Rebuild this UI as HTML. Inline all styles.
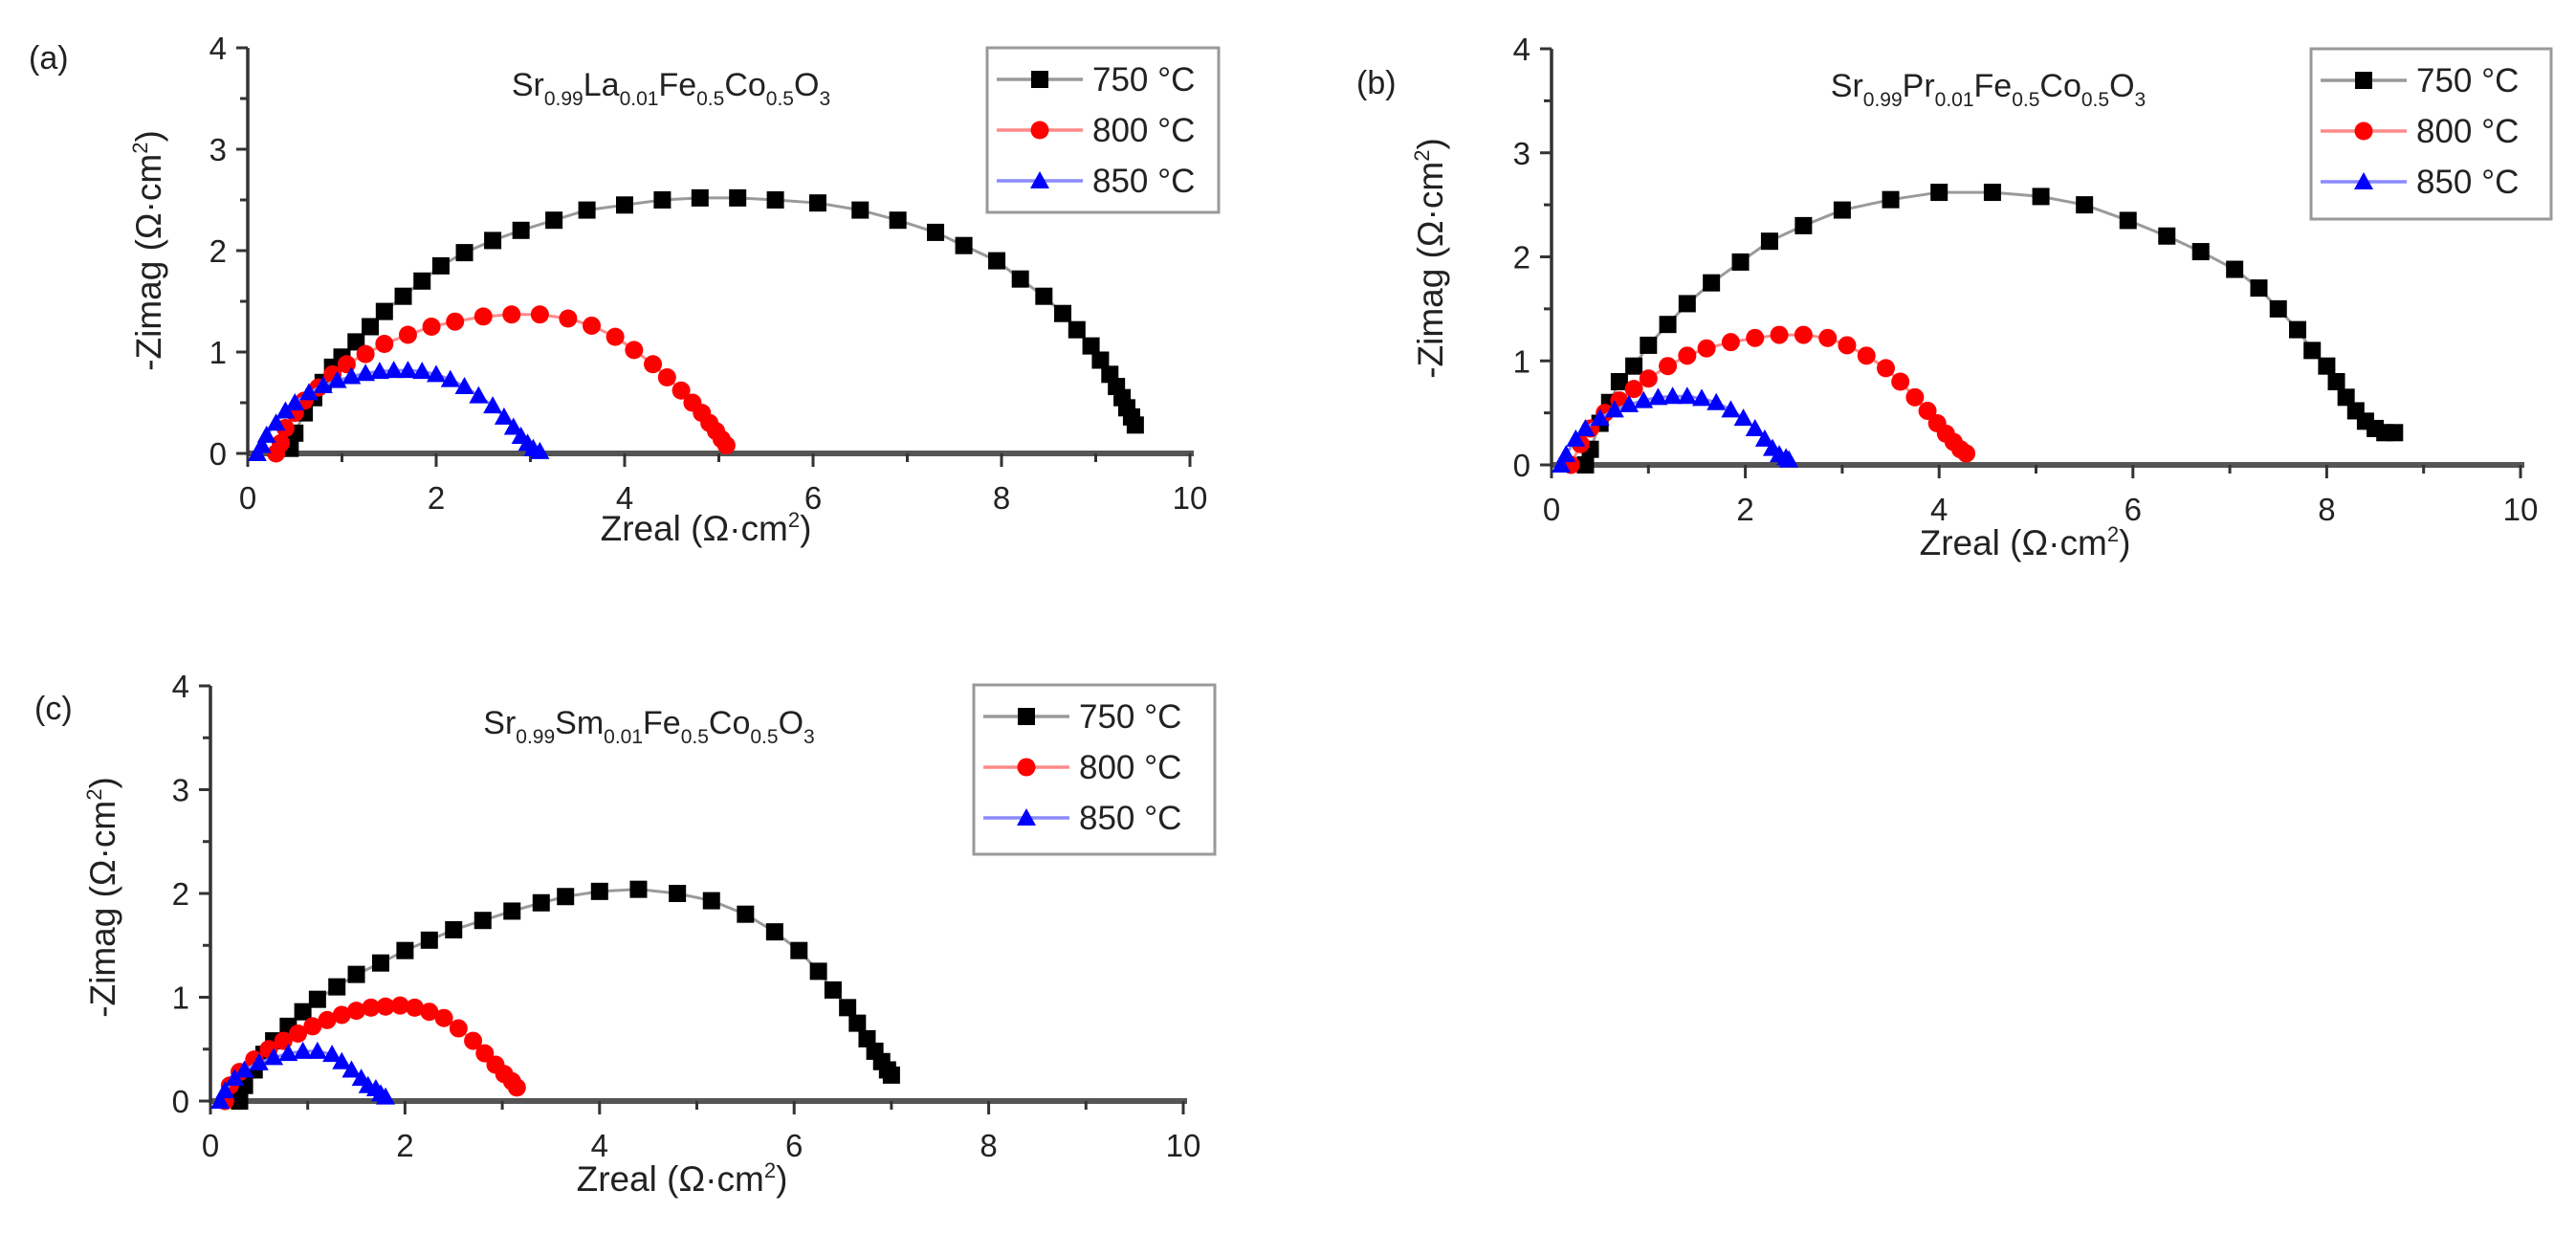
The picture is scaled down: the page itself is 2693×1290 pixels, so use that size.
<!DOCTYPE html>
<html><head><meta charset="utf-8"><style>
html,body{margin:0;padding:0;background:#fff;}
svg{display:block;font-family:"Liberation Sans",Arial,sans-serif;}
</style></head><body>
<svg id="chart" width="2693" height="1290" viewBox="0 0 2693 1290" xmlns="http://www.w3.org/2000/svg"></svg>
<script>
const xTicks=[0,2,4,6,8,10];
const yTicks=[0,1,2,3,4];
const seriesLabels=["750 °C","800 °C","850 °C"];
const panelLetters=["(a)","(b)","(c)"];
const dopants=["La","Pr","Sm"];
// Panel a
const a750x=[0.45,0.5,0.6,0.7,0.8,0.9,1.0,1.15,1.3,1.45,1.65,1.85,2.05,2.3,2.6,2.9,3.25,3.6,4.0,4.4,4.8,5.2,5.6,6.05,6.5,6.9,7.3,7.6,7.95,8.2,8.45,8.65,8.8,8.95,9.05,9.15,9.22,9.28,9.33,9.38,9.42];
const a750y=[0.05,0.2,0.4,0.55,0.7,0.85,0.95,1.1,1.25,1.4,1.55,1.7,1.85,1.98,2.1,2.2,2.3,2.4,2.45,2.5,2.52,2.52,2.5,2.47,2.4,2.3,2.18,2.05,1.9,1.72,1.55,1.38,1.22,1.06,0.92,0.78,0.66,0.55,0.45,0.36,0.28];
const a800x=[0.3,0.35,0.4,0.5,0.6,0.75,0.9,1.05,1.25,1.45,1.7,1.95,2.2,2.5,2.8,3.1,3.4,3.65,3.9,4.1,4.3,4.45,4.6,4.72,4.82,4.9,4.97,5.03,5.08];
const a800y=[0,0.1,0.25,0.4,0.52,0.65,0.78,0.88,0.98,1.08,1.17,1.25,1.3,1.35,1.37,1.37,1.33,1.26,1.15,1.02,0.88,0.75,0.62,0.5,0.4,0.3,0.22,0.14,0.08];
const a850x=[0.1,0.15,0.2,0.3,0.4,0.5,0.65,0.8,0.95,1.1,1.25,1.4,1.55,1.7,1.85,2.0,2.15,2.3,2.45,2.6,2.72,2.82,2.9,2.97,3.03,3.1];
const a850y=[0,0.08,0.18,0.3,0.42,0.5,0.6,0.67,0.72,0.76,0.79,0.81,0.82,0.82,0.81,0.78,0.73,0.66,0.57,0.47,0.36,0.26,0.17,0.1,0.05,0.02];
// Panel b
const b750x=[0.35,0.4,0.5,0.6,0.7,0.85,1.0,1.2,1.4,1.65,1.95,2.25,2.6,3.0,3.5,4.0,4.55,5.05,5.5,5.95,6.35,6.7,7.05,7.3,7.5,7.7,7.85,8.0,8.1,8.2,8.3,8.4,8.5,8.6,8.7];
const b750y=[0,0.15,0.4,0.6,0.8,0.95,1.15,1.35,1.55,1.75,1.95,2.15,2.3,2.45,2.55,2.62,2.62,2.58,2.5,2.35,2.2,2.05,1.88,1.7,1.5,1.3,1.1,0.95,0.8,0.65,0.52,0.42,0.35,0.31,0.31];
const b800x=[0.2,0.3,0.4,0.55,0.7,0.85,1.0,1.2,1.4,1.6,1.85,2.1,2.35,2.6,2.85,3.05,3.25,3.45,3.6,3.75,3.88,3.98,4.07,4.15,4.22,4.28];
const b800y=[0,0.2,0.35,0.5,0.62,0.73,0.83,0.95,1.05,1.12,1.18,1.22,1.25,1.25,1.22,1.15,1.05,0.93,0.8,0.65,0.52,0.4,0.3,0.22,0.15,0.11];
const b850x=[0.1,0.15,0.25,0.35,0.5,0.65,0.8,0.95,1.1,1.25,1.4,1.55,1.7,1.85,1.98,2.1,2.2,2.28,2.35,2.42,2.45];
const b850y=[0,0.1,0.25,0.35,0.45,0.53,0.58,0.62,0.65,0.66,0.66,0.64,0.6,0.53,0.45,0.35,0.25,0.16,0.1,0.07,0.05];
// Panel c
const c750x=[0.3,0.35,0.45,0.55,0.65,0.8,0.95,1.1,1.3,1.5,1.75,2.0,2.25,2.5,2.8,3.1,3.4,3.65,4.0,4.4,4.8,5.15,5.5,5.8,6.05,6.25,6.4,6.55,6.65,6.75,6.83,6.9,6.96,7.0];
const c750y=[0,0.15,0.3,0.45,0.58,0.72,0.86,0.98,1.1,1.22,1.33,1.45,1.55,1.65,1.74,1.83,1.91,1.97,2.02,2.04,2.0,1.93,1.8,1.63,1.45,1.25,1.07,0.9,0.75,0.6,0.48,0.38,0.3,0.25];
const c800x=[0.15,0.2,0.3,0.45,0.6,0.75,0.9,1.05,1.2,1.35,1.5,1.65,1.8,1.95,2.1,2.25,2.4,2.55,2.7,2.82,2.93,3.02,3.1,3.15];
const c800y=[0,0.15,0.28,0.4,0.5,0.58,0.65,0.72,0.78,0.83,0.87,0.9,0.91,0.92,0.9,0.86,0.8,0.7,0.58,0.46,0.35,0.26,0.19,0.13];
const c850x=[0.1,0.15,0.25,0.35,0.5,0.65,0.8,0.95,1.1,1.25,1.35,1.45,1.55,1.62,1.7,1.75,1.8];
const c850y=[0,0.1,0.22,0.3,0.37,0.42,0.46,0.48,0.48,0.45,0.38,0.3,0.22,0.15,0.12,0.07,0.04];

const NS="http://www.w3.org/2000/svg";
const svg=document.getElementById('chart');
function mk(tag,attrs,parent,text){const e=document.createElementNS(NS,tag);for(const k in attrs)e.setAttribute(k,attrs[k]);if(text!==undefined)e.textContent=text;(parent||svg).appendChild(e);return e;}

const panels=[
 {x0:259,x1:1244,y0:474,y4:50,lg:[1032,50,242,172],letter:[30,72],ylab:[168,262],xlab:[738,565],
  data:[[a750x,a750y],[a800x,a800y],[a850x,a850y]]},
 {x0:1622,x1:2635,y0:486,y4:51,lg:[2416,51,251,178],letter:[1418,98],ylab:[1508,270],xlab:[2117,580],
  data:[[b750x,b750y],[b800x,b800y],[b850x,b850y]]},
 {x0:220,x1:1237,y0:1151,y4:717,lg:[1018,716,252,177],letter:[36,752],ylab:[120,938],xlab:[713,1245],
  data:[[c750x,c750y],[c800x,c800y],[c850x,c850y]]}
];
const lineCols=["#9a9a9a","#ff8a8a","#8a8aff"];
const markCols=["#000","#f00","#0000ff"];
const TXT='#222';

panels.forEach((p,pi)=>{
  const g=mk('g',{});
  
  
  const sx=v=>p.x0+(p.x1-p.x0)*v/10;
  const sy=v=>p.y0-(p.y0-p.y4)*v/4;
  const xa=mk('line',{x1:p.x0,y1:p.y0,x2:p.x1+4,y2:p.y0,stroke:'#555','stroke-width':6},g);
  
  
  const ya=mk('line',{x1:p.x0,y1:p.y0+2,x2:p.x0,y2:p.y4,stroke:'#333','stroke-width':3.5},g);
  
  
  for(let v=0;v<=10;v+=1){
    const maj=v%2===0;
    mk('line',{x1:sx(v),y1:p.y0,x2:sx(v),y2:p.y0+(maj?14:9),stroke:'#333','stroke-width':3},g);
  }
  xTicks.forEach(v=>{
    const t=mk('text',{x:sx(v),y:p.y0+58,'text-anchor':'middle','font-size':33,fill:TXT},g,String(v));
    
    
  });
  for(let v=0;v<=4;v+=0.5){
    const maj=v%1===0;
    mk('line',{x1:p.x0,y1:sy(v),x2:p.x0-(maj?12:8),y2:sy(v),stroke:'#333','stroke-width':3},g);
  }
  yTicks.forEach(v=>{
    const t=mk('text',{x:p.x0-22,y:sy(v)+12,'text-anchor':'end','font-size':33,fill:TXT},g,String(v));
    
    
  });
  const xt=mk('text',{x:p.xlab[0],y:p.xlab[1],'text-anchor':'middle','font-size':37,fill:TXT},g);
  
  
  mk('tspan',{},xt,'Zreal (Ω·cm');mk('tspan',{dy:-14,'font-size':22},xt,'2');mk('tspan',{dy:14},xt,')');
  const yt=mk('text',{x:0,y:0,'text-anchor':'middle','font-size':37,fill:TXT,transform:`translate(${p.ylab[0]},${p.ylab[1]}) rotate(-90)`},g);
  
  
  mk('tspan',{},yt,'-Zimag (Ω·cm');mk('tspan',{dy:-14,'font-size':22},yt,'2');mk('tspan',{dy:14},yt,')');
  const lt=mk('text',{x:p.letter[0],y:p.letter[1],'font-size':34,fill:TXT},g,panelLetters[pi]);
  
  
  const ct=mk('text',{x:(p.x0+p.x1)/2-50,y:p.y4+50,'text-anchor':'middle','font-size':34,fill:TXT},g);
  
  
  const parts=[['Sr',0],['0.99',1],[dopants[pi],0],['0.01',1],['Fe',0],['0.5',1],['Co',0],['0.5',1],['O',0],['3',1]];
  let sub=false;
  parts.forEach(([s,isSub])=>{
    const dy=isSub&&!sub?10:(!isSub&&sub?-10:0);
    mk('tspan',{dy:dy,'font-size':isSub?21:34},ct,s);sub=!!isSub;
  });
  p.data.forEach((d,si)=>{
    const sg=mk('g',{},g);
    
    
    const pts=d[0].map((x,i)=>sx(x)+','+sy(d[1][i])).join(' ');
    mk('polyline',{points:pts,fill:'none',stroke:lineCols[si],'stroke-width':3},sg);
    d[0].forEach((x,i)=>{
      const cx=sx(x),cy=sy(d[1][i]);
      let m;
      if(si===0) m=mk('rect',{x:cx-9,y:cy-9,width:18,height:18,fill:markCols[0]},sg);
      else if(si===1) m=mk('circle',{cx:cx,cy:cy,r:9.5,fill:markCols[1]},sg);
      else m=mk('polygon',{points:`${cx},${cy-10} ${cx+10},${cy+8} ${cx-10},${cy+8}`,fill:markCols[2]},sg);
      
      
    });
  });
  const [lx,ly,lw,lh]=p.lg;
  const lg=mk('g',{},g);
  
  
  mk('rect',{x:lx,y:ly,width:lw,height:lh,fill:'#fff',stroke:'#999','stroke-width':3},lg);
  seriesLabels.forEach((lab,si)=>{
    const yy=ly+33+si*53;
    const e=mk('g',{},lg);
    
    
    mk('line',{x1:lx+10,y1:yy,x2:lx+100,y2:yy,stroke:lineCols[si],'stroke-width':3.5},e);
    const cx=lx+55;
    if(si===0) mk('rect',{x:cx-9,y:yy-9,width:18,height:18,fill:markCols[0]},e);
    else if(si===1) mk('circle',{cx:cx,cy:yy,r:9.5,fill:markCols[1]},e);
    else mk('polygon',{points:`${cx},${yy-10} ${cx+10},${yy+8} ${cx-10},${yy+8}`,fill:markCols[2]},e);
    mk('text',{x:lx+110,y:yy+12,'font-size':35,fill:TXT},e,lab);
  });
});
</script>
</body></html>
